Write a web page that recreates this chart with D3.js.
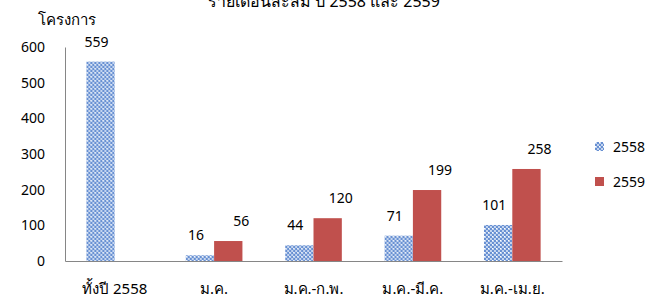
<!DOCTYPE html>
<html>
<head>
<meta charset="utf-8">
<script src="https://cdn.jsdelivr.net/npm/d3@7"></script>
<style>
  body { margin: 0; background: #fff; }
  svg text { font-family: Tahoma, "Noto Sans", "DejaVu Sans", sans-serif; fill: #000; }
</style>
</head>
<body>
<div id="chart"></div>
<script>
// data
var categories = ["ทั้งปี 2558", "ม.ค.", "ม.ค.-ก.พ.", "ม.ค.-มี.ค.", "ม.ค.-เม.ย."];
var seriesNames = ["2558", "2559"];
var values2558 = [559, 16, 44, 71, 101];
var values2559 = [null, 56, 120, 199, 258];
var yTicks = [0, 100, 200, 300, 400, 500, 600];

var width = 646, height = 298;
var svg = d3.select("#chart").append("svg")
	.attr("width", width)
	.attr("height", height);

// checker pattern for 2558 bars
var defs = svg.append("defs");
var pat = defs.append("pattern")
	.attr("id", "checker")
	.attr("patternUnits", "userSpaceOnUse")
	.attr("width", 4).attr("height", 4);
pat.append("rect").attr("width", 4).attr("height", 4).attr("fill", "#6890d2");
pat.append("rect").attr("x", 0).attr("y", 0).attr("width", 2).attr("height", 2).attr("fill", "#c4d5ef");
pat.append("rect").attr("x", 2).attr("y", 2).attr("width", 2).attr("height", 2).attr("fill", "#c4d5ef");
pat.append("rect").attr("x", 0).attr("y", 0).attr("width", 1).attr("height", 1).attr("fill", "#ffffff");

var colors = { "2558": "url(#checker)", "2559": "#c0504d" };

var x0 = d3.scaleBand()
	.domain(categories)
	.range([65, 562])
	.paddingInner(0.43)
	.paddingOuter(0.215);

var x1 = d3.scaleBand()
	.domain(seriesNames)
	.range([0, x0.bandwidth()]);

var y = d3.scaleLinear()
	.domain([0, 600])
	.range([261, 47]);

// title (cut off at top)
svg.append("text")
	.attr("x", 324)
	.attr("y", 7)
	.attr("text-anchor", "middle")
	.style("font-size", "16px")
	.text("รายเดือนสะสม ปี 2558 และ 2559");

// y axis title
svg.append("text")
	.attr("x", 38)
	.attr("y", 25)
	.style("font-size", "15px")
	.text("โครงการ");

// y axis
var yAxis = svg.append("g")
	.attr("transform", "translate(65,0)")
	.call(d3.axisLeft(y).tickValues(yTicks).tickSize(0).tickPadding(20));
yAxis.select(".domain").attr("stroke", "#868686");
yAxis.selectAll("text").style("font-size", "14px");

// x axis
var xAxis = svg.append("g")
	.attr("transform", "translate(0," + y(0) + ")")
	.call(d3.axisBottom(x0).tickSize(0).tickPadding(22));
xAxis.select(".domain").attr("stroke", "#868686");
xAxis.selectAll("text").style("font-size", "15px");

// bars
var rows = categories.map(function(c, i) {
	return { cat: c, vals: [
		{ key: "2558", value: values2558[i] },
		{ key: "2559", value: values2559[i] }
	]};
});

var groups = svg.selectAll("g.grp")
	.data(rows).enter()
	.append("g")
	.attr("class", "grp")
	.attr("transform", function(d) { return "translate(" + x0(d.cat) + ",0)"; });

var bars = groups.selectAll("g.bar")
	.data(function(d) { return d.vals.filter(function(v) { return v.value != null; }); })
	.enter().append("g")
	.attr("class", "bar");

bars.append("rect")
	.attr("x", function(d) { return x1(d.key); })
	.attr("y", function(d) { return y(d.value); })
	.attr("width", x1.bandwidth())
	.attr("height", function(d) { return y(0) - y(d.value); })
	.attr("fill", function(d) { return colors[d.key]; });

// data labels
bars.append("text")
	.attr("x", function(d) { return x1(d.key) + x1.bandwidth() / 2 + (d.key == "2558" ? -4 : 13); })
	.attr("y", function(d) { return y(d.value) - 15; })
	.attr("text-anchor", "middle")
	.style("font-size", "14px")
	.text(function(d) { return d.value; });

// legend
var legend = svg.selectAll("g.legend")
	.data(seriesNames).enter()
	.append("g")
	.attr("class", "legend")
	.attr("transform", function(d, i) { return "translate(595," + (142 + i * 35) + ")"; });

legend.append("rect")
	.attr("width", 9)
	.attr("height", 9)
	.attr("fill", function(d) { return colors[d]; });

legend.append("text")
	.attr("x", 18)
	.attr("y", 10)
	.style("font-size", "14px")
	.text(function(d) { return d; });
</script>
</body>
</html>
